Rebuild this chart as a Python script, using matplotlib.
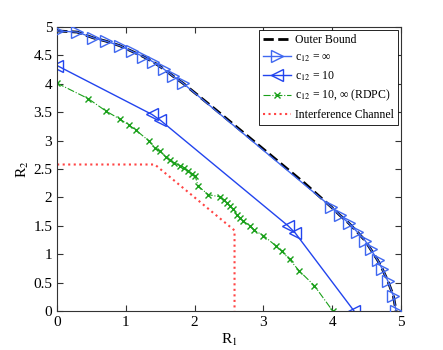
import numpy as np
import matplotlib
matplotlib.use("Agg")
import matplotlib.pyplot as plt

plt.rcParams["font.family"] = ["Liberation Serif", "DejaVu Serif"]
plt.rcParams["mathtext.fontset"] = "stix"

# Outer bound (symmetric about R1 = R2)
outer_x = [0, 0.29, 0.52, 0.71, 0.91, 1.09, 1.25, 1.39, 1.55, 1.69, 1.83,
           2.3, 2.7, 2.95, 3.2, 3.6,
           3.99, 4.11, 4.24, 4.36, 4.48, 4.56, 4.66, 4.73, 4.81, 4.89, 4.93]
outer_y = [4.93, 4.91, 4.81, 4.75, 4.67, 4.57, 4.48, 4.39, 4.26, 4.13, 4.01,
           3.55, 3.15, 2.9, 2.65, 2.25,
           1.83, 1.69, 1.55, 1.40, 1.24, 1.09, 0.90, 0.74, 0.53, 0.27, 0]

# c12 = inf (markers on the outer bound)
inf_x = [0, 0.29, 0.52, 0.71, 0.91, 1.09, 1.25, 1.39, 1.55, 1.69, 1.83,
         3.99, 4.11, 4.24, 4.36, 4.48, 4.56, 4.66, 4.73, 4.81, 4.89, 4.93]
inf_y = [4.93, 4.91, 4.81, 4.75, 4.67, 4.57, 4.48, 4.39, 4.26, 4.13, 4.01,
         1.83, 1.69, 1.55, 1.40, 1.24, 1.09, 0.90, 0.74, 0.53, 0.27, 0]

# c12 = 10
c10_x = [0, 1.38, 1.50, 3.36, 3.46, 4.32]
c10_y = [4.32, 3.46, 3.36, 1.50, 1.38, 0]

# RDPC
rdpc_x = [0, 0.45, 0.71, 0.91, 1.05, 1.15, 1.33, 1.42, 1.50, 1.58, 1.64, 1.70,
          1.79, 1.85, 1.91, 1.96, 2.01, 2.05, 2.20, 2.37, 2.42, 2.47, 2.51,
          2.56, 2.61, 2.66, 2.71, 2.81, 2.87, 3.00, 3.18, 3.27, 3.38, 3.52,
          3.74, 4.01]
rdpc_y = [4.01, 3.74, 3.52, 3.38, 3.27, 3.18, 3.00, 2.87, 2.81, 2.71, 2.66,
          2.61, 2.56, 2.51, 2.47, 2.42, 2.37, 2.20, 2.05, 2.01, 1.96, 1.91,
          1.85, 1.79, 1.70, 1.64, 1.58, 1.50, 1.42, 1.33, 1.15, 1.05, 0.91,
          0.71, 0.45, 0]

# Interference channel
ic_x = [0, 1.42, 2.58, 2.58]
ic_y = [2.58, 2.58, 1.42, 0]

fig = plt.figure(figsize=(4.43, 3.5), dpi=100)
ax = fig.add_axes([0.129, 0.111, 0.776, 0.812])

ax.plot(inf_x, inf_y, "-", color="#4068f0", lw=1.0, marker=">", ms=8,
        mfc="none", mec="#4068f0", mew=1.0, label="c$_{12}$ = ∞", zorder=3)
ax.plot(outer_x, outer_y, "--", color="black", lw=2.0, zorder=2,
        label="Outer Bound")
ax.plot(c10_x, c10_y, "-", color="#2244ee", lw=1.0, marker="<", ms=8,
        mfc="none", mec="#2244ee", mew=1.0, label="c$_{12}$ = 10")
ax.plot(rdpc_x, rdpc_y, "-.", color="#1aa01a", lw=0.8, marker="x", ms=5,
        mew=1.0, label="c$_{12}$ = 10, ∞ (RDPC)")
ax.plot(ic_x, ic_y, ":", color="#ff4444", lw=1.5,
        label="Interference Channel")

ax.set_xlim(0, 5)
ax.set_ylim(0, 5)
ax.set_xticks([0, 1, 2, 3, 4, 5])
ax.set_yticks(np.arange(0, 5.01, 0.5))
ax.set_yticklabels(["0", "0.5", "1", "1.5", "2", "2.5", "3", "3.5", "4", "4.5", "5"])
ax.tick_params(direction="in", top=True, right=True, labelsize=11, length=4,
               color="#333333")
for s in ax.spines.values():
    s.set_color("#333333")
    s.set_linewidth(0.8)
ax.set_xlabel("R$_1$", fontsize=11, labelpad=2)
ax.set_ylabel("R$_2$", fontsize=11, labelpad=2)

h, l = ax.get_legend_handles_labels()
order = [1, 0, 2, 3, 4]
leg = ax.legend([h[i] for i in order], [l[i] for i in order],
                loc="upper right", fontsize=8.5, fancybox=False,
                edgecolor="black", framealpha=1, borderpad=0.35,
                handlelength=2.4, handletextpad=0.3, labelspacing=0.45,
                borderaxespad=0.25)
leg.get_frame().set_linewidth(0.6)

fig.savefig("out.png", dpi=100)
